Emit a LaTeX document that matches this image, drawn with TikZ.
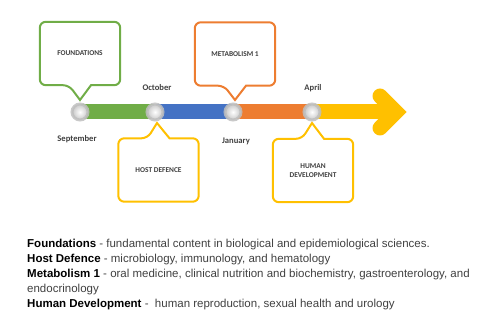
\documentclass[tikz,border=0pt]{standalone}
\usepackage{fontspec}
\setmainfont{Liberation Sans}
\newfontfamily\labelfont{Carlito}
\usetikzlibrary{calc}

\definecolor{fgreen}{HTML}{70AD47}
\definecolor{hblue}{HTML}{4472C4}
\definecolor{morange}{HTML}{ED7D31}
\definecolor{dyellow}{HTML}{FFC000}
\definecolor{ringgray}{HTML}{BFBFBF}
\definecolor{txtgray}{HTML}{404040}

\tikzset{
  band/.style={line width=15pt},
  stop/.style={circle,minimum size=16pt,inner sep=0pt,draw=ringgray,draw opacity=0.85,
    line width=3pt,inner color=white,outer color=black!22},
  month/.style={font=\labelfont\bfseries\fontsize{8.6}{9}\selectfont,text=txtgray,inner sep=0pt},
  topic/.style={minimum width=80pt,minimum height=63pt,inner sep=0pt,align=center,
    font=\labelfont\bfseries\fontsize{7.4}{9}\selectfont,text=txtgray},
  callout/.style={line width=2pt,rounded corners=6pt}
}

\begin{document}
\begin{tikzpicture}[x=1pt,y=-1pt]
  \useasboundingbox (0,0) rectangle (500,323);
  \coordinate (sep) at (80,112);
  \coordinate (oct) at (155,112);
  \coordinate (jan) at (233,112);
  \coordinate (apr) at (312,112);
  \coordinate (tip) at (396,112);
  \coordinate (hup) at (380,96);
  \coordinate (hlo) at (380,128);
  %% timeline
  \draw[band,fgreen] (sep) -- (oct);
  \draw[band,hblue] (oct) -- (jan);
  \draw[band,morange] (jan) -- (apr);
  \draw[band,dyellow] (apr) -- (tip);
  \draw[band,dyellow,line cap=round,line join=miter] (hup) -- (tip) -- (hlo);
  %% callouts
  \node[topic] (fnd) at (80,53.5) {FOUNDATIONS};
  \node[topic] (met) at (235,54) {METABOLISM 1};
  \node[topic] (hst) at (158.5,170) {HOST DEFENCE};
  \node[topic] (hum) at (313,170.5) {HUMAN\\DEVELOPMENT};
  \coordinate (fndtip) at (80,100);
  \coordinate (mettip) at (235,100);
  \coordinate (hsttip) at (157,123);
  \coordinate (humtip) at (312,123);
  \draw[callout,fgreen] ($(fnd.south)+(-11,0)$) [sharp corners] -- (fndtip) -- ($(fnd.south)+(11,0)$)
    [rounded corners=6pt] -- (fnd.south east) -- (fnd.north east) -- (fnd.north west) -- (fnd.south west) -- cycle;
  \draw[callout,morange] ($(met.south)+(-11,0)$) [sharp corners] -- (mettip) -- ($(met.south)+(11,0)$)
    [rounded corners=6pt] -- (met.south east) -- (met.north east) -- (met.north west) -- (met.south west) -- cycle;
  \draw[callout,dyellow] ($(hst.north)+(-11,0)$) [sharp corners] -- (hsttip) -- ($(hst.north)+(11,0)$)
    [rounded corners=6pt] -- (hst.north east) -- (hst.south east) -- (hst.south west) -- (hst.north west) -- cycle;
  \draw[callout,dyellow] ($(hum.north)+(-11,0)$) [sharp corners] -- (humtip) -- ($(hum.north)+(11,0)$)
    [rounded corners=6pt] -- (hum.north east) -- (hum.south east) -- (hum.south west) -- (hum.north west) -- cycle;
  %% stops
  \node[stop] (sepdot) at (sep) {};
  \node[stop] (octdot) at (oct) {};
  \node[stop] (jandot) at (jan) {};
  \node[stop] (aprdot) at (apr) {};
  \node[month] (seplbl) at (77,139) {September};
  \node[month] (octlbl) at (157,88) {October};
  \node[month] (janlbl) at (236,141) {January};
  \node[month] (aprlbl) at (313,88) {April};
  %% notes
  \node[anchor=north west,align=left,inner sep=0pt,text=txtgray,
    font=\fontsize{11.5}{15.1}\selectfont] (notes) at (27,239) {%
    \textcolor{black}{\textbf{Foundations}} - fundamental content in biological and epidemiological sciences.\\
    \textcolor{black}{\textbf{Host Defence}} - microbiology, immunology, and hematology\\
    \textcolor{black}{\textbf{Metabolism 1}} - oral medicine, clinical nutrition and biochemistry, gastroenterology, and\\
    endocrinology\\
    \textcolor{black}{\textbf{Human Development}} -\ \ human reproduction, sexual health and urology};
\end{tikzpicture}
\end{document}
